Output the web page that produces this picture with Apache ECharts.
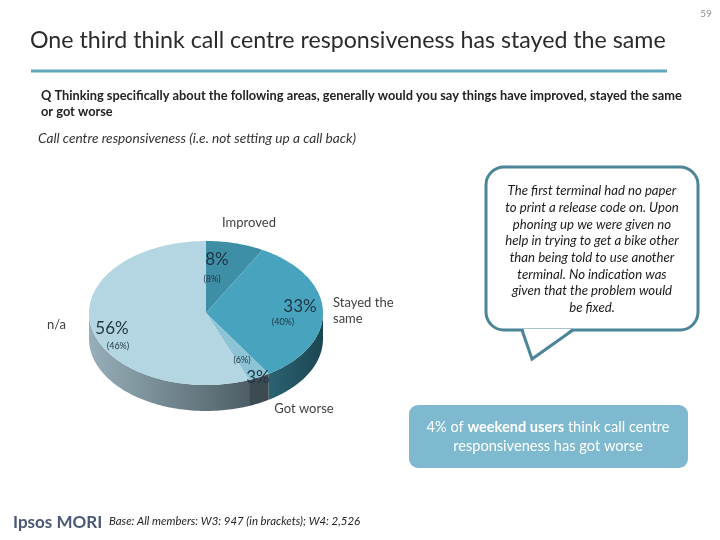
<!DOCTYPE html>
<html>
<head>
<meta charset="utf-8">
<script src="https://cdn.jsdelivr.net/npm/echarts@6/dist/echarts.min.js"></script>
<style>
  html, body { margin: 0; padding: 0; background: #fff; }
  #main { width: 720px; height: 540px; }
</style>
</head>
<body>
<div id="main"></div>
<script>
// W4 values (big labels) and W3 values (in brackets), clockwise from 12 o'clock
const categories = ['Improved', 'Stayed the same', 'Got worse', 'n/a']
const w4Values = [8, 33, 3, 56]
const w3Values = [8, 40, 6, 46]

const FONT = 'Lato, "Open Sans", sans-serif'

// pie look
const topColors = ['#3e8ea6', '#47a3be', '#8cc4d5', '#b3d6e2']
// side wall colours [left, right]
const sideColors = [
  ['#2a5a68', '#2a5a68'],
  ['#2a6272', '#1d4652'],
  ['#3c4a52', '#3c4a52'],
  ['#97afb9', '#4e5e66']
]
const cx = 206, cy = 313, rx = 117, ry = 72, depth = 26

const total = w4Values.reduce((a, b) => a + b, 0)
let acc = 0
const pieData = w4Values.map((v, i) => {
  const row = [i, v, acc]
  acc += v
  return row
})

function edge(a, dy) {
  return [cx + rx * Math.sin(a), cy - ry * Math.cos(a) + (dy || 0)]
}

function arcPoints(a0, a1, dy) {
  const pts = []
  const n = Math.max(2, Math.ceil((a1 - a0) / 0.02))
  for (let k = 0; k <= n; k++) pts.push(edge(a0 + (a1 - a0) * k / n, dy))
  return pts
}

function renderSlice(params, api) {
  const i = api.value(0)
  const v = api.value(1)
  const start = api.value(2)
  const a0 = start / total * Math.PI * 2
  const a1 = (start + v) / total * Math.PI * 2
  const children = []
  // side wall, only the front half is visible
  const s = Math.max(a0, Math.PI / 2)
  const e = Math.min(a1, Math.PI * 1.5)
  if (e > s) {
    const upper = arcPoints(s, e, 0)
    const lower = arcPoints(s, e, depth).reverse()
    children.push({
      type: 'polygon',
      shape: { points: upper.concat(lower) },
      style: {
        fill: {
          type: 'linear', x: 0, y: 0, x2: 1, y2: 0,
          colorStops: [
            { offset: 0, color: sideColors[i][0] },
            { offset: 1, color: sideColors[i][1] }
          ]
        }
      }
    })
  }
  children.push({
    type: 'polygon',
    shape: { points: [[cx, cy]].concat(arcPoints(a0, a1, 0)) },
    style: { fill: topColors[i] }
  })
  return { type: 'group', children: children }
}

function txt(x, y, text, style) {
  return {
    type: 'text', x: x, y: y, z: 50, silent: true,
    style: Object.assign({ text: text, font: '13px ' + FONT, fill: '#404040', textAlign: 'left', textVerticalAlign: 'middle' }, style)
  }
}

// label anchors for each slice: big %, bracket %
const bigPos = [[217, 260], [300, 307], [258, 378], [112, 329]]
const smallPos = [[212, 279], [283, 322], [242, 360], [118, 346]]

const graphics = []
// page number
graphics.push(txt(706, 14, '59', { font: '10px ' + FONT, fill: '#8a8a8a', textAlign: 'center' }))
// title
graphics.push(txt(30, 41, 'One third think call centre responsiveness has stayed the same', { font: '23.2px ' + FONT, fill: '#2b2b2b' }))
graphics.push({ type: 'rect', shape: { x: 31, y: 69.5, width: 636, height: 3 }, style: { fill: '#62a8bb' }, silent: true })
// question
graphics.push(txt(41, 96, 'Q Thinking specifically about the following areas, generally would you say things have improved, stayed the same', { font: 'bold 12.8px ' + FONT, fill: '#222' }))
graphics.push(txt(41, 112, 'or got worse', { font: 'bold 12.8px ' + FONT, fill: '#222' }))
graphics.push(txt(38, 139, 'Call centre responsiveness (i.e. not setting up a call back)', { font: 'italic 13.7px ' + FONT, fill: '#333' }))

// pie labels
categories.forEach((c, i) => {
  graphics.push(txt(bigPos[i][0], bigPos[i][1], w4Values[i] + '%', { font: '17px ' + FONT, fill: '#1f3440', textAlign: 'center' }))
  graphics.push(txt(smallPos[i][0], smallPos[i][1], '(' + w3Values[i] + '%)', { font: '9px ' + FONT, fill: '#1f3440', textAlign: 'center' }))
})
graphics.push(txt(249, 223, categories[0], { textAlign: 'center' }))
graphics.push(txt(333, 303, 'Stayed the', {}))
graphics.push(txt(333, 319, 'same', {}))
graphics.push(txt(304, 409, categories[2], { textAlign: 'center' }))
graphics.push(txt(47, 325, categories[3], {}))

// speech bubble: rounded box + tail
graphics.push({ type: 'rect', silent: true, shape: { x: 486, y: 167, width: 212, height: 163, r: 18 }, style: { fill: '#fff', stroke: '#4b8597', lineWidth: 3 } })
graphics.push({ type: 'polygon', silent: true, z: 2, shape: { points: [[523.5, 329], [532, 355], [571.5, 329]] }, style: { fill: '#fff' } })
graphics.push({ type: 'polyline', silent: true, z: 3, shape: { points: [[522, 330], [532, 359], [573, 330]] }, style: { stroke: '#4b8597', lineWidth: 3, fill: null, lineJoin: 'miter' } })
const quote = [
  'The first terminal had no paper',
  'to print a release code on. Upon',
  'phoning up we were given no',
  'help in trying to get a bike other',
  'than being told to use another',
  'terminal. No indication was',
  'given that the problem would',
  'be fixed.'
]
quote.forEach((l, k) => {
  graphics.push(txt(592, 191 + k * 16.7, l, { font: 'italic 13.2px ' + FONT, fill: '#1a1a1a', textAlign: 'center' }))
})

// blue note box
graphics.push({ type: 'rect', silent: true, shape: { x: 409, y: 405, width: 279, height: 63, r: 9 }, style: { fill: '#7fb9cf' } })
graphics.push({
  type: 'text', x: 548, y: 437, z: 50, silent: true,
  style: {
    text: '4% of {b|weekend users} think call centre\nresponsiveness has got worse',
    font: '14.6px ' + FONT, fill: '#fff', textAlign: 'center', textVerticalAlign: 'middle', lineHeight: 19,
    rich: { b: { font: 'bold 14.6px ' + FONT, fill: '#fff' } }
  }
})

// footer
graphics.push(txt(13, 523, 'Ipsos MORI', { font: 'bold 17px ' + FONT, fill: '#4a5878' }))
graphics.push(txt(109, 521, 'Base: All members: W3: 947 (in brackets); W4: 2,526', { font: 'italic 11.4px ' + FONT, fill: '#222' }))

const chart = echarts.init(document.getElementById('main'))
chart.setOption({
  animation: false,
  series: [{
    type: 'custom',
    coordinateSystem: 'none',
    renderItem: renderSlice,
    data: pieData,
    silent: true
  }],
  graphic: { elements: graphics }
})
</script>
</body>
</html>
